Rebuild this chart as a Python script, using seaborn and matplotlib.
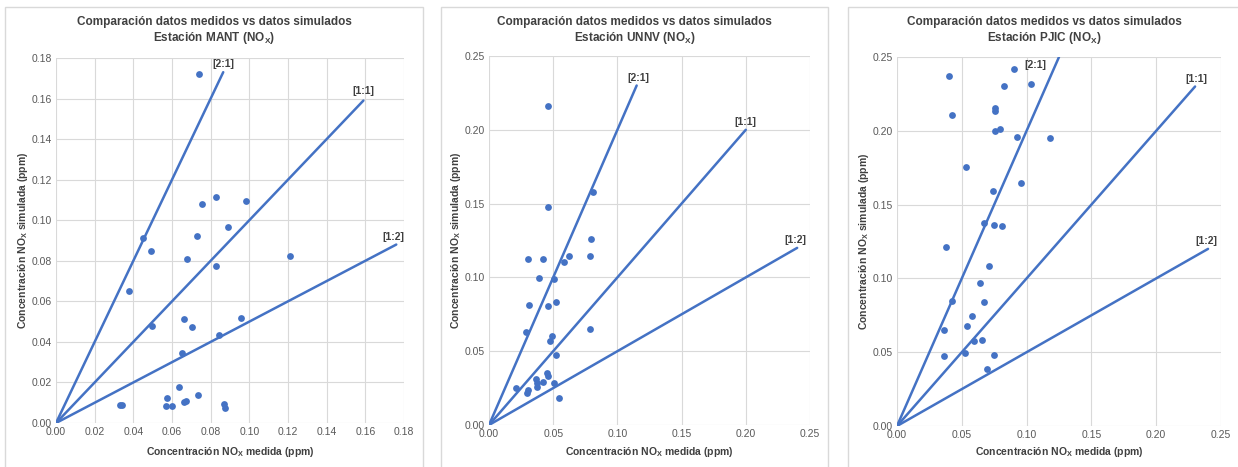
"""
Comparación NOx medido vs simulado - tres estaciones
"""

import matplotlib
matplotlib.use("Agg")
import matplotlib.pyplot as plt
import matplotlib.patches as patches
import seaborn as sns

# ─────────────────────────────────────────────
#  DATOS
# ─────────────────────────────────────────────
ESTACIONES = ["MANT", "UNNV", "PJIC"]

mant_medida = [0.0448, 0.0491, 0.0729, 0.0676, 0.0829, 0.1210, 0.0376, 0.0498,
               0.0660, 0.0703, 0.0959, 0.0843, 0.0650, 0.0636, 0.0576, 0.0733,
               0.0331, 0.0343, 0.0567, 0.0598, 0.0660, 0.0671, 0.0871, 0.0874,
               0.0738, 0.0755, 0.0829, 0.0981, 0.0890]
mant_simulada = [0.0910, 0.0848, 0.0921, 0.0810, 0.0772, 0.0823, 0.0649, 0.0476,
                 0.0515, 0.0471, 0.0520, 0.0436, 0.0344, 0.0179, 0.0125, 0.0137,
                 0.0087, 0.0090, 0.0086, 0.0086, 0.0105, 0.0110, 0.0093, 0.0073,
                 0.1720, 0.1079, 0.1115, 0.1094, 0.0967]

unnv_medida = [0.0301, 0.0423, 0.0587, 0.0623, 0.0792, 0.0789, 0.0387, 0.0509,
               0.0309, 0.0460, 0.0524, 0.0286, 0.0493, 0.0472, 0.0787, 0.0522,
               0.0208, 0.0293, 0.0304, 0.0363, 0.0371, 0.0376, 0.0418, 0.0454,
               0.0460, 0.0506, 0.0543, 0.0462, 0.0462, 0.0807]
unnv_simulada = [0.1122, 0.1122, 0.1106, 0.1143, 0.1258, 0.1145, 0.0993, 0.0989,
                 0.0812, 0.0808, 0.0833, 0.0631, 0.0600, 0.0566, 0.0649, 0.0475,
                 0.0253, 0.0215, 0.0238, 0.0312, 0.0287, 0.0260, 0.0294, 0.0355,
                 0.0333, 0.0287, 0.0185, 0.2161, 0.1475, 0.1579]

pjic_medida = [0.0376, 0.0709, 0.0644, 0.0428, 0.0668, 0.0577, 0.0539, 0.0366,
               0.0595, 0.0655, 0.0523, 0.0363, 0.0750, 0.0696, 0.0405, 0.0423,
               0.0905, 0.1031, 0.0822, 0.0755, 0.0755, 0.0760, 0.0796, 0.0923,
               0.1178, 0.0534, 0.0959, 0.0740, 0.0675, 0.0750, 0.0807]
pjic_simulada = [0.1212, 0.1084, 0.0966, 0.0849, 0.0842, 0.0745, 0.0679, 0.0650,
                 0.0573, 0.0582, 0.0497, 0.0472, 0.0479, 0.0386, 0.2371, 0.2105,
                 0.2416, 0.2317, 0.2303, 0.2152, 0.2134, 0.2000, 0.2014, 0.1956,
                 0.1949, 0.1757, 0.1649, 0.1593, 0.1378, 0.1361, 0.1354]

# líneas de referencia: extremo final (x, y), todas parten de (0, 0)
REF_ETIQUETAS = ["[2:1]", "[1:1]", "[1:2]"]
mant_ref_x = [0.0865, 0.159, 0.176]
mant_ref_y = [0.173, 0.159, 0.088]
unnv_ref_x = [0.115, 0.200, 0.240]
unnv_ref_y = [0.230, 0.200, 0.120]
pjic_ref_x = [0.125, 0.230, 0.240]
pjic_ref_y = [0.250, 0.230, 0.120]

# ejes
mant_ticks = [0.00, 0.02, 0.04, 0.06, 0.08, 0.10, 0.12, 0.14, 0.16, 0.18]
otros_ticks = [0.00, 0.05, 0.10, 0.15, 0.20, 0.25]

# ─────────────────────────────────────────────
#  TEMA
# ─────────────────────────────────────────────
sns.set_theme(style="whitegrid")
plt.rcParams.update({
    "font.family"        : ["Liberation Sans", "DejaVu Sans"],
    "mathtext.fontset"   : "custom",
    "mathtext.rm"        : "Liberation Sans",
    "mathtext.it"        : "Liberation Sans",
    "mathtext.bf"        : "Liberation Sans:bold",
    "grid.color"         : "#D9D9D9",
    "grid.linewidth"     : 0.8,
    "xtick.color"        : "#595959",
    "ytick.color"        : "#595959",
    "xtick.labelsize"    : 7.5,
    "ytick.labelsize"    : 7.5,
})

AZUL = "#4472C4"
TEXTO = "#404040"
W, H = 1238, 467

# caja del gráfico (px) y área de trazado (px): x0, x1, y0, y1
CAJAS = [(5, 423), (441, 828), (848, 1240)]
AREAS = [(56, 404, 58, 423), (489, 810, 56, 425), (897, 1221, 57, 426)]
# desplazamiento de etiquetas de referencia (pt)
OFFSETS = [[(0, 2), (0, 3), (-2, 2)],
           [(1, 2), (0, 2), (-1, 2)],
           [(-17, -9.5), (1, 2), (-1, 2)]]


def main():
    medidas = [mant_medida, unnv_medida, pjic_medida]
    simuladas = [mant_simulada, unnv_simulada, pjic_simulada]
    refs_x = [mant_ref_x, unnv_ref_x, pjic_ref_x]
    refs_y = [mant_ref_y, unnv_ref_y, pjic_ref_y]
    ticks = [mant_ticks, otros_ticks, otros_ticks]

    fig = plt.figure(figsize=(W / 100, H / 100), dpi=100)
    fig.patch.set_facecolor("white")

    for i, est in enumerate(ESTACIONES):
        bx0, bx1 = CAJAS[i]
        fig.patches.append(patches.Rectangle(
            (bx0 / W, -0.05), (bx1 - bx0) / W, 1 - 7 / H + 0.05,
            transform=fig.transFigure, fill=False,
            edgecolor="#D9D9D9", linewidth=1.0))

        x0, x1, y0, y1 = AREAS[i]
        ax = fig.add_axes([x0 / W, 1 - y1 / H, (x1 - x0) / W, (y1 - y0) / H])
        ax.set_facecolor("white")
        ax.set_axisbelow(True)

        for xe, ye, lab, off in zip(refs_x[i], refs_y[i], REF_ETIQUETAS, OFFSETS[i]):
            sns.lineplot(x=[0, xe], y=[0, ye], ax=ax, color=AZUL,
                         linewidth=1.8, estimator=None, sort=False, zorder=2)
            ax.annotate(lab, (xe, ye), textcoords="offset points", xytext=off,
                        ha="center", va="bottom", fontsize=7.5, fontweight="bold",
                        color=TEXTO, annotation_clip=False)

        sns.scatterplot(x=medidas[i], y=simuladas[i], ax=ax, color=AZUL,
                        s=24, linewidth=0, zorder=3)

        t = ticks[i]
        ax.set_xlim(t[0], t[-1])
        ax.set_ylim(t[0], t[-1])
        ax.set_xticks(t)
        ax.set_yticks(t)
        ax.set_xticklabels([f"{v:.2f}" for v in t])
        ax.set_yticklabels([f"{v:.2f}" for v in t])
        ax.tick_params(length=0, pad=3)
        for s in ax.spines.values():
            s.set_visible(False)

        ax.set_xlabel(r"Concentración NO$_\mathbf{X}$ medida (ppm)",
                      fontsize=7.5, fontweight="bold", color=TEXTO)
        ax.set_ylabel(r"Concentración NO$_\mathbf{X}$ simulada (ppm)",
                      fontsize=7.5, fontweight="bold", color=TEXTO)
        ax.xaxis.set_label_coords(0.5, -(452 - y1) / (y1 - y0))
        ax.xaxis.label.set_va("center")
        ax.yaxis.set_label_coords(-33 / (x1 - x0), 0.5)
        ax.yaxis.label.set_va("center")

        cx = (bx0 + bx1) / 2 / W
        fig.text(cx, 1 - 22.5 / H, "Comparación datos medidos vs datos simulados",
                 ha="center", va="center", fontsize=8.5, fontweight="bold",
                 color=TEXTO)
        fig.text(cx, 1 - 37.5 / H, r"Estación %s (NO$_\mathbf{X}$)" % est,
                 ha="center", va="center", fontsize=8.5, fontweight="bold",
                 color=TEXTO)

    plt.savefig("out.png", dpi=100, facecolor="white")


if __name__ == "__main__":
    main()
